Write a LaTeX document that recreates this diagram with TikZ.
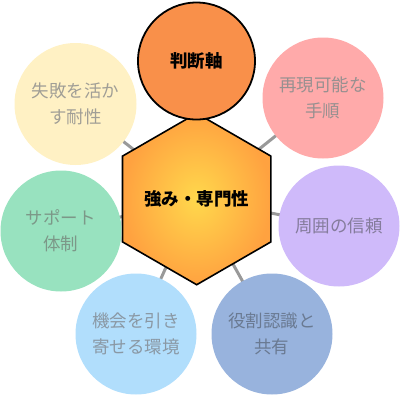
\documentclass[tikz,border=0pt]{standalone}
\usepackage{fontspec}
\newfontfamily\jp{Noto Sans CJK JP}
\usetikzlibrary{shapes.geometric,backgrounds}
\definecolor{hexin}{HTML}{FFD84C}
\definecolor{hexout}{HTML}{FFA240}
\definecolor{ctop}{HTML}{F9904A}
\definecolor{cpink}{HTML}{FFAAAA}
\definecolor{cpurple}{HTML}{CFBAFA}
\definecolor{cbgray}{HTML}{98B3DD}
\definecolor{clblue}{HTML}{B1DEFC}
\definecolor{cgreen}{HTML}{98E2BF}
\definecolor{cyellow}{HTML}{FFF1C4}
\definecolor{tyellow}{HTML}{A09E96}
\definecolor{tpink}{HTML}{979090}
\definecolor{tpurple}{HTML}{857C9C}
\definecolor{tbgray}{HTML}{6A7A92}
\definecolor{tlblue}{HTML}{8A98A4}
\definecolor{tgreen}{HTML}{7C9888}
\definecolor{linkgray}{HTML}{999999}
\tikzset{
  bubble/.style={circle, minimum size=121pt, inner sep=0pt, align=center,
    font=\jp\fontsize{17.5}{26}\selectfont},
  hexbox/.style={regular polygon, regular polygon sides=6, shape border rotate=30,
    minimum size=138pt, inner sep=0pt, draw=black, line width=1.6pt,
    shading=radial, inner color=hexin, outer color=hexout,
    font=\jp\bfseries\fontsize{17.5}{26}\selectfont},
  topbubble/.style={circle, minimum size=117pt, inner sep=0pt, draw=black, line width=1.8pt,
    fill=ctop, font=\jp\bfseries\fontsize{17.5}{26}\selectfont},
  link/.style={draw=linkgray, line width=3pt},
  toplink/.style={draw=black, line width=2pt}
}
\begin{document}
\begin{tikzpicture}[x=1pt,y=-1pt]
\useasboundingbox (0,0) rectangle (400,400);
\node[hexbox] (hex) at (196.7,199) {強み・専門性};
\node[topbubble] (top) at (196.5,61) {判断軸};
\node[bubble, fill=cpink, text=tpink] (pink) at (323,98) {再現可能な\\手順};
\node[bubble, fill=cpurple, text=tpurple] (purple) at (339,226) {周囲の信頼};
\node[bubble, fill=cbgray, text=tbgray] (bgray) at (272,334) {役割認識と\\共有};
\node[bubble, fill=clblue, text=tlblue] (lblue) at (136,334) {機会を引き\\寄せる環境};
\node[bubble, fill=cgreen, text=tgreen] (green) at (61,231) {サポート\\体制};
\node[bubble, fill=cyellow, text=tyellow, minimum size=122pt] (yellow) at (75.5,104) {失敗を活か\\す耐性};
\begin{scope}[on background layer]
\draw[link] (hex.center) -- (pink.center);
\draw[link] (hex.center) -- (purple.center);
\draw[link] (hex.center) -- (bgray.center);
\draw[link] (hex.center) -- (lblue.center);
\draw[link] (hex.center) -- (green.center);
\draw[link] (hex.center) -- (yellow.center);
\draw[toplink] (hex.center) -- (top.center);
\end{scope}
\end{tikzpicture}
\end{document}
